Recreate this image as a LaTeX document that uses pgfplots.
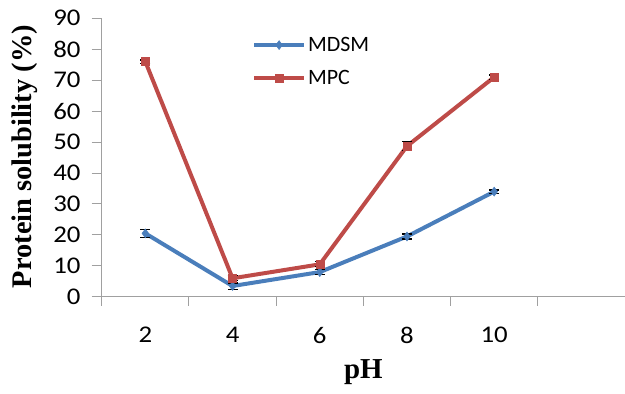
\documentclass[border=0pt]{standalone}
\usepackage{pgfplots}
\pgfplotsset{compat=1.18}
\usepackage{fontspec}
\setmainfont{Liberation Serif}
\newfontfamily\calib[FakeStretch=1.12]{Carlito}
\newfontfamily\calibleg{Carlito}
\definecolor{cblue}{RGB}{74,126,187}
\definecolor{cred}{RGB}{190,75,72}
\definecolor{agray}{RGB}{160,160,160}
\begin{document}
\begin{tikzpicture}
\begin{axis}[
  name=ax,
  scale only axis,
  width=523bp, height=278.4bp,
  xmin=0.5, xmax=6.5, ymin=0, ymax=90,
  axis lines*=left,
  axis line style={agray, line width=1pt},
  xtick={1,2,3,4,5},
  xticklabels={2,4,6,8,10},
  minor xtick={0.5,1.5,2.5,3.5,4.5,5.5,6.5},
  major x tick style={draw=none},
  minor tick length=9bp,
  ytick={0,10,...,90},
  major tick length=10bp,
  tick align=outside,
  tick style={agray, line width=1pt},
  ticklabel style={font=\calib\fontsize{24}{26}\selectfont, text=black, inner sep=0pt},
  /pgf/number format/assume math mode=true,
  xticklabel style={yshift=-20bp},
  yticklabel style={xshift=-11bp},
  xlabel={\textbf{pH}},
  every axis x label/.style={at={(rel axis cs:0.5,0)}, anchor=center, yshift=-75bp},
  xlabel style={font=\fontsize{29}{32}\selectfont},
  ylabel={\textbf{Protein solubility (\%)}},
  every axis y label/.style={at={(rel axis cs:0,0.5)}, xshift=-77bp, yshift=1bp, rotate=90, anchor=center},
  ylabel style={font=\fontsize{28.5}{32}\selectfont},
  legend style={draw=none, fill=none, at={(0.287,0.94)}, anchor=north west,
     font=\calibleg\fontsize{22}{24}\selectfont, row sep=13bp, inner sep=0pt,
     nodes={inner sep=2bp}},
  legend cell align=left,
  legend image code/.code={
    \draw[#1, line width=4pt] (0bp,0bp) -- (50bp,0bp);
    \draw[#1, mark repeat=1, mark phase=1] plot coordinates {(25bp,0bp)};
  },
  error bars/error bar style={black, line width=1.2pt},
  error bars/error mark options={black, line width=1.2pt, mark size=5bp, rotate=90},
]
\addplot[cblue, line width=4pt, mark=diamond*, mark size=4.5pt,
  mark options={solid, line width=0.5pt, fill=cblue},
  error bars/.cd, y dir=both, y explicit]
 coordinates {(1,20.5) +- (0,1.2) (2,3.5) +- (0,1.0) (3,8) +- (0,0.8) (4,19.5) +- (0,0.8) (5,34) +- (0,0.5)};
\addlegendentry{MDSM}
\addplot[cred, line width=4pt, mark=square*, mark size=4pt,
  mark options={solid, line width=0.5pt, fill=cred},
  error bars/.cd, y dir=both, y explicit]
 coordinates {(1,76) +- (0,0.5) (2,6) +- (0,0.8) (3,10.5) +- (0,0.8) (4,48.7) +- (0,1.5) (5,71) +- (0,0.7)};
\addlegendentry{MPC}
\end{axis}
\pgfresetboundingbox
\path[use as bounding box] ([xshift=-101.7bp,yshift=-96.3bp]ax.south west) rectangle ([yshift=18.3bp]ax.north east);
\end{tikzpicture}
\end{document}
